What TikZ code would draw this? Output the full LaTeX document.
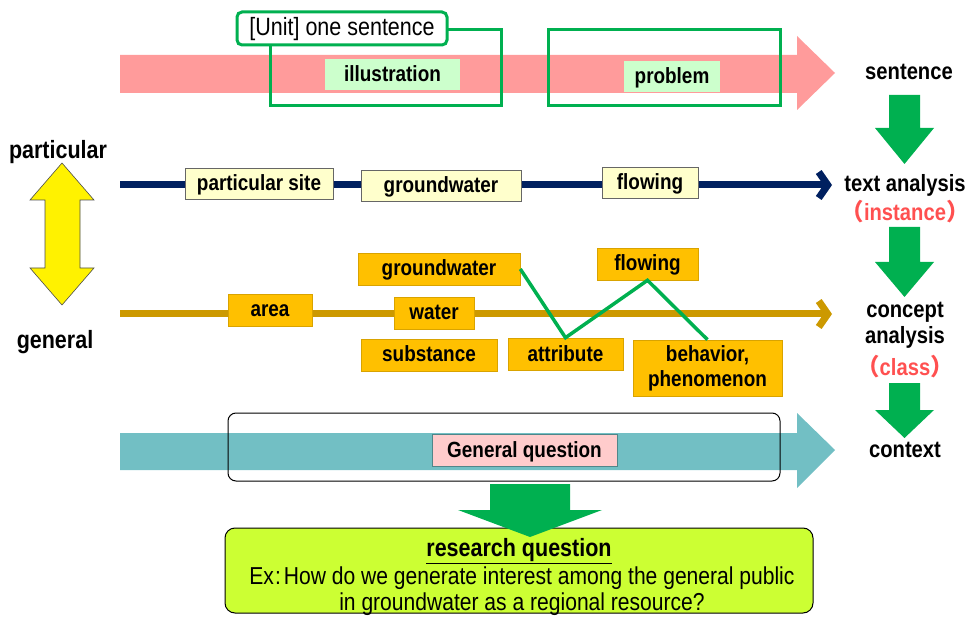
\documentclass[tikz,border=0pt]{standalone}
\usepackage{fontspec}
\setmainfont[FakeStretch=0.86]{Liberation Sans}
\newfontfamily\cjk{Noto Sans CJK JP}
\usetikzlibrary{arrows.meta}
\definecolor{pinkband}{HTML}{FF9B9B}
\definecolor{frame}{HTML}{00B050}
\definecolor{mint}{HTML}{CCFFCC}
\definecolor{navy}{HTML}{002060}
\definecolor{cream}{HTML}{FFFFCC}
\definecolor{gold}{HTML}{CC9900}
\definecolor{amber}{HTML}{FFC000}
\definecolor{tealband}{HTML}{72BFC4}
\definecolor{blush}{HTML}{FFCCCC}
\definecolor{lime}{HTML}{CCFF33}
\definecolor{redlabel}{HTML}{FF5050}
\begin{document}
\begin{tikzpicture}[x=1pt,y=-1pt,
  lbl/.style={font=\fontsize{22}{25}\selectfont\bfseries, inner sep=0pt},
  boxtext/.style={text height=17pt, text depth=3pt},
  side/.style={font=\fontsize{23.5}{26}\selectfont\bfseries, inner sep=0pt, align=center},
  tagbox/.style={lbl, boxtext, fill=mint, minimum height=31pt},
  instbox/.style={lbl, boxtext, draw=black!60, fill=cream, line width=0.8pt, minimum height=31pt},
  classbox/.style={lbl, boxtext, draw=amber!85!black, fill=amber, line width=0.6pt, minimum height=32pt},
  band/.style={line width=7pt},
  zig/.style={frame, line width=3.5pt},
  downarrow/.style={fill=frame}
]
\useasboundingbox (0,0) rectangle (974,617);

% --- sentence level: pink band with unit frames
\fill[pinkband] (120,55) -- (797,55) -- (797,36) -- (835,73) -- (797,110) -- (797,93) -- (120,93) -- cycle;
\draw[frame, line width=3pt] (270,30) rectangle (501,106);
\draw[frame, line width=3pt] (548,30) rectangle (780,106);
\node[draw=frame, line width=3pt, fill=white, rounded corners=5pt, minimum width=210pt,
      minimum height=33pt, inner sep=0pt, text height=18pt, text depth=4pt,
      font=\fontsize{25}{28}\selectfont] (unit) at (342,28.5) {[Unit] one sentence};
\node[tagbox, minimum width=135pt] (illus) at (392.5,74.5) {illustration};
\node[tagbox, minimum width=96pt] (prob) at (672,76.5) {problem};

% --- right column of levels
\node[side] (sent) at (909,72) {sentence};
\node[side] (text) at (905,185) {text analysis};
\node[side, text=redlabel] (inst) at (905,212) {{\cjk （}instance{\cjk ）}};
\node[side] (concept) at (905,325) {concept\\analysis};
\node[side, text=redlabel] (cls) at (905,367) {{\cjk （}class{\cjk ）}};
\node[side] (ctx) at (905,450) {context};

\fill[downarrow] (889,95) -- (920,95) -- (920,128) -- (934,128) -- (904.5,164) -- (875,128) -- (889,128) -- cycle;
\fill[downarrow] (889,227) -- (920,227) -- (920,262) -- (934,262) -- (904.5,297) -- (875,262) -- (889,262) -- cycle;
\fill[downarrow] (889,383) -- (920,383) -- (920,410) -- (934,410) -- (904.5,438) -- (875,410) -- (889,410) -- cycle;

% --- particular / general scale
\node[lbl, font=\fontsize{25}{28}\selectfont\bfseries] (part) at (58,152) {particular};
\node[lbl, font=\fontsize{25}{28}\selectfont\bfseries] (gen) at (55,342) {general};
\filldraw[fill=yellow, draw=black!70, line width=0.6pt]
  (62,163) -- (94,200) -- (80,200) -- (80,268) -- (94,268) -- (62,305) -- (30,268)
  -- (45,268) -- (45,200) -- (30,200) -- cycle;

% --- instance line
\coordinate (navyS) at (120,185);
\coordinate (navyE) at (832,185);
\draw[navy, band, -{Straight Barb[length=9pt,width=26pt]}] (navyS) -- (navyE);
\node[instbox, minimum width=148pt] (site) at (259,183.5) {particular site};
\node[instbox, minimum width=160pt] (gw1) at (441,186) {groundwater};
\node[instbox, minimum width=96pt] (flow1) at (650,183) {flowing};

% --- class line
\coordinate (goldS) at (120,314);
\coordinate (goldE) at (832,314);
\draw[gold, band, -{Straight Barb[length=9pt,width=26pt]}] (goldS) -- (goldE);
\node[classbox, minimum width=162pt] (gw2) at (439,269) {groundwater};
\node[classbox, minimum width=101pt] (flow2) at (647.5,264) {flowing};
\node[classbox, minimum width=84pt] (area) at (270,310) {area};
\node[classbox, minimum width=80pt] (water) at (434,313) {water};
\node[classbox, minimum width=136pt] (subst) at (429,355) {substance};
\node[classbox, minimum width=115pt] (attr) at (565.5,354) {attribute};
\node[lbl, draw=amber!85!black, fill=amber, line width=0.6pt, minimum width=149pt, minimum height=56pt,
      align=center] (beh) at (707.5,368) {behavior,\\phenomenon};
\draw[zig, line join=miter] (gw2.east) -- (attr.north) -- (flow2.south) -- (beh.north);

% --- context band
\fill[tealband] (120,433) -- (797,433) -- (797,413) -- (835,450) -- (797,488) -- (797,470) -- (120,470) -- cycle;
\draw[rounded corners=8pt, line width=1pt] (228,413) rectangle (780,481);
\node[lbl, boxtext, draw=tealband!70!black, fill=blush, line width=0.6pt, minimum width=185pt, minimum height=32pt]
  (gq) at (524.5,450) {General question};

% --- research question
\node[draw=black, line width=1pt, rounded corners=10pt, fill=lime, minimum width=588pt,
      minimum height=85pt, inner sep=0pt] (rq) at (519,570.5) {};
\node[font=\fontsize{25}{28}\selectfont\bfseries, inner sep=0pt] (rqt) at (519,551) {\underline{research question}};
\node[font=\fontsize{24.5}{28}\selectfont, inner sep=0pt] (rq1) at (522,578) {Ex\kern1pt:\kern3pt How do we generate interest among the general public};
\node[font=\fontsize{24.5}{28}\selectfont, inner sep=0pt] (rq2) at (522,604) {in groundwater as a regional resource?};
\fill[downarrow] (490,484) -- (570,484) -- (570,510) -- (602,510) -- (530,537) -- (458,510) -- (490,510) -- cycle;
\end{tikzpicture}
\end{document}
